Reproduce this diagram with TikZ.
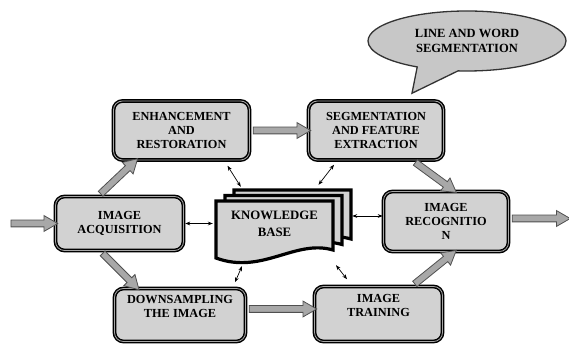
\documentclass[tikz,border=0pt]{standalone}
\usepackage{fontspec}
\setmainfont{Liberation Serif}
\usetikzlibrary{shapes.arrows,shapes.callouts,calc,arrows.meta}

\definecolor{boxfill}{RGB}{210,210,210}
\definecolor{flowfill}{RGB}{168,168,168}
\definecolor{flowline}{RGB}{80,80,80}

\tikzset{
  stage/.style={draw=black, line width=1.5pt, double=gray!70, double distance=0.8pt,
    rounded corners=9pt, fill=boxfill, align=center, inner sep=0pt,
    font=\fontsize{12.3}{14}\selectfont\bfseries},
  flow/.style={single arrow, draw=flowline, fill=flowfill, line width=0.8pt,
    inner sep=3pt, single arrow head extend=4.5pt, single arrow tip angle=60},
  kbsheet/.style={draw=black, line width=3.2pt, fill=boxfill, line join=miter},
  link/.style={{Stealth[length=5pt]}-{Stealth[length=5pt]}, line width=0.7pt},
}

\newcommand\flowarrow[2]{%
  \path let \p1=($(#2)-(#1)$), \n1={atan2(\y1,\x1)}, \n2={veclen(\x1,\y1)} in
    node[flow, rotate=\n1, minimum height=\n2] at ($(#1)!0.5!(#2)$) {};}

\begin{document}
\begin{tikzpicture}[x=1pt,y=1pt]
    \useasboundingbox (0,0) rectangle (569,347);

    % processing stages
    \node[stage, minimum width=128pt, minimum height=54pt] (acq) at (119.5,123.5) {IMAGE\\ACQUISITION};
    \node[stage, minimum width=136pt, minimum height=59pt] (enh) at (181.5,216.5) {ENHANCEMENT\\AND\\RESTORATION};
    \node[stage, minimum width=131pt, minimum height=53pt] (down) at (180,32) {DOWNSAMPLING\\THE IMAGE\\[4pt]};
    \node[stage, minimum width=135pt, minimum height=59pt] (seg) at (376,216.5) {SEGMENTATION\\AND FEATURE\\EXTRACTION};
    \node[stage, minimum width=125pt, minimum height=60pt] (recog) at (446,125.5) {IMAGE\\RECOGNITIO\\N};
    \node[stage, minimum width=128pt, minimum height=55pt] (train) at (378.5,33) {IMAGE\\TRAINING\\[4pt]};

    % knowledge base sheets
    \foreach \d in {2,1,0}
        \draw[kbsheet, shift={(9*\d,5.5*\d)}] (216,146) -- (333,146) -- (333,97)
            .. controls (295,108) and (262,72) .. (216,89) -- cycle;
    \node[font=\fontsize{12.8}{17}\selectfont\bfseries, align=center, inner sep=0pt,
        minimum width=117pt, minimum height=50pt] (kb) at (274.5,123.5) {KNOWLEDGE\\BASE};

    % callout
    \coordinate (notetip) at ([xshift=36pt,yshift=7pt]seg.north);
    \node[ellipse callout, draw=black!80, line width=1.3pt, fill=boxfill!95!black,
        minimum width=198pt, minimum height=60pt, callout absolute pointer=(notetip),
        callout pointer arc=25, align=center, inner sep=0pt,
        font=\fontsize{12.5}{15}\selectfont\bfseries] (note) at (467,306) {LINE AND WORD\\SEGMENTATION};

    % block arrows
    \coordinate (in) at (8,123.5);
    \coordinate (ro) at ([yshift=3pt]recog.east);
    \coordinate (out) at ($(ro)+(58,0)$);
    \coordinate (d1) at ([yshift=6pt]down.east);
    \coordinate (t1) at (train.west |- d1);
    \coordinate (a1) at ([xshift=-21pt]acq.north);
    \coordinate (e1) at ([xshift=-46pt]enh.south);
    \coordinate (a2) at ([xshift=-19pt]acq.south);
    \coordinate (d2) at ([xshift=-43pt]down.north);
    \coordinate (s1) at ([xshift=37pt]seg.south);
    \coordinate (r1) at ([xshift=8pt]recog.north);
    \coordinate (t2) at ([xshift=34pt]train.north);
    \coordinate (r2) at ([xshift=8pt]recog.south);
    \flowarrow{in}{acq.west}
    \flowarrow{ro}{out}
    \flowarrow{enh.east}{seg.west}
    \flowarrow{d1}{t1}
    \flowarrow{a1}{e1}
    \flowarrow{a2}{d2}
    \flowarrow{s1}{r1}
    \flowarrow{t2}{r2}

    % links to the knowledge base
    \coordinate (kr) at ([shift={(19pt,7.5pt)}]kb.east);
    \draw[link] ([shift={(46pt,-5pt)}]enh.south) -- ([shift={(25pt,11.5pt)}]kb.north west);
    \draw[link] ([shift={(-42pt,-4pt)}]seg.south) -- ([shift={(44pt,13.5pt)}]kb.north);
    \draw[link] ([xshift=1pt]acq.east) -- ([xshift=-3pt]kb.west);
    \draw[link] (kr) -- (recog.west |- kr);
    \draw[link] ([shift={(-32.5pt,-17.5pt)}]kb.south) -- ([shift={(55pt,5.5pt)}]down.north);
    \draw[link] ([shift={(61.5pt,-16.5pt)}]kb.south) -- ([shift={(-31.5pt,6.5pt)}]train.north);
\end{tikzpicture}
\end{document}
